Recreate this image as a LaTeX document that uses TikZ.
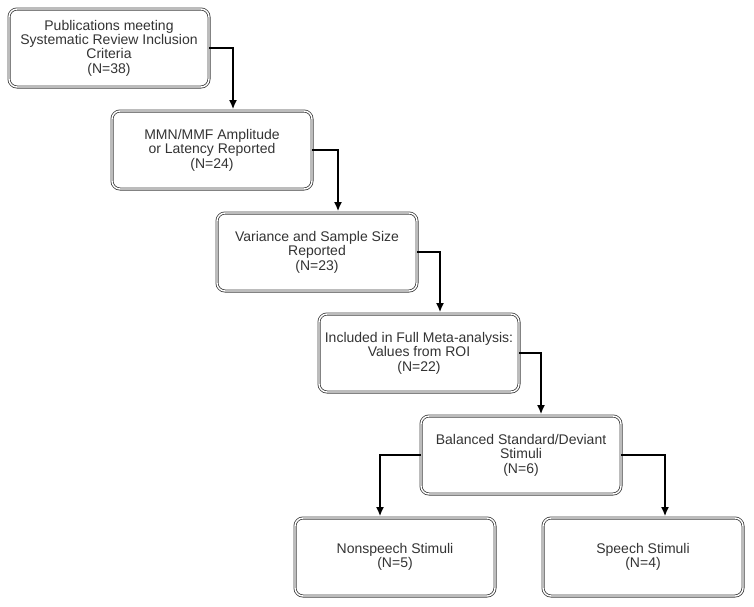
\documentclass[tikz,border=0pt]{standalone}
\usepackage{fontspec}
\setmainfont{Liberation Sans}
\usetikzlibrary{shapes,arrows,arrows.meta,positioning,calc}

\begin{document}
\begin{tikzpicture}[x=1pt,y=-1pt]
  \tikzset{
    stage/.style={draw=black!75,double=white,double distance=1.4pt,line width=0.8pt,
      rounded corners=8pt,minimum width=200pt,minimum height=78pt,align=center,
      text=black!80,font=\fontsize{14}{14.4}\selectfont},
    flow/.style={line width=1.5pt,-{Latex[length=9pt,width=8pt]},shorten >=1.5pt}
  }
  \useasboundingbox (0,0) rectangle (754,606);

  % Screening stages
  \node[stage] (pub) at (109,48) {Publications meeting\\Systematic Review Inclusion\\Criteria\\(N=38)};
  \node[stage] (mmn) at (212,150) {MMN/MMF Amplitude\\or Latency Reported\\(N=24)};
  \node[stage] (var) at (317,252) {Variance and Sample Size\\Reported\\(N=23)};
  \node[stage] (meta) at (419,353) {Included in Full Meta-analysis:\\Values from ROI\\(N=22)};
  \node[stage] (bal) at (521,455) {Balanced Standard/Deviant\\Stimuli\\(N=6)};

  % Stimulus types
  \node[stage] (nonsp) at (395,557) {Nonspeech Stimuli\\(N=5)};
  \node[stage] (sp) at (643,557) {Speech Stimuli\\(N=4)};

  % Connections
  \draw[flow] (pub.east) -| ([xshift=21pt]mmn.north);
  \draw[flow] (mmn.east) -| ([xshift=21pt]var.north);
  \draw[flow] (var.east) -| ([xshift=21pt]meta.north);
  \draw[flow] (meta.east) -| ([xshift=20pt]bal.north);
  \draw[flow] (bal.west) -| ([xshift=-15pt]nonsp.north);
  \draw[flow] (bal.east) -| ([xshift=22pt]sp.north);
\end{tikzpicture}
\end{document}
